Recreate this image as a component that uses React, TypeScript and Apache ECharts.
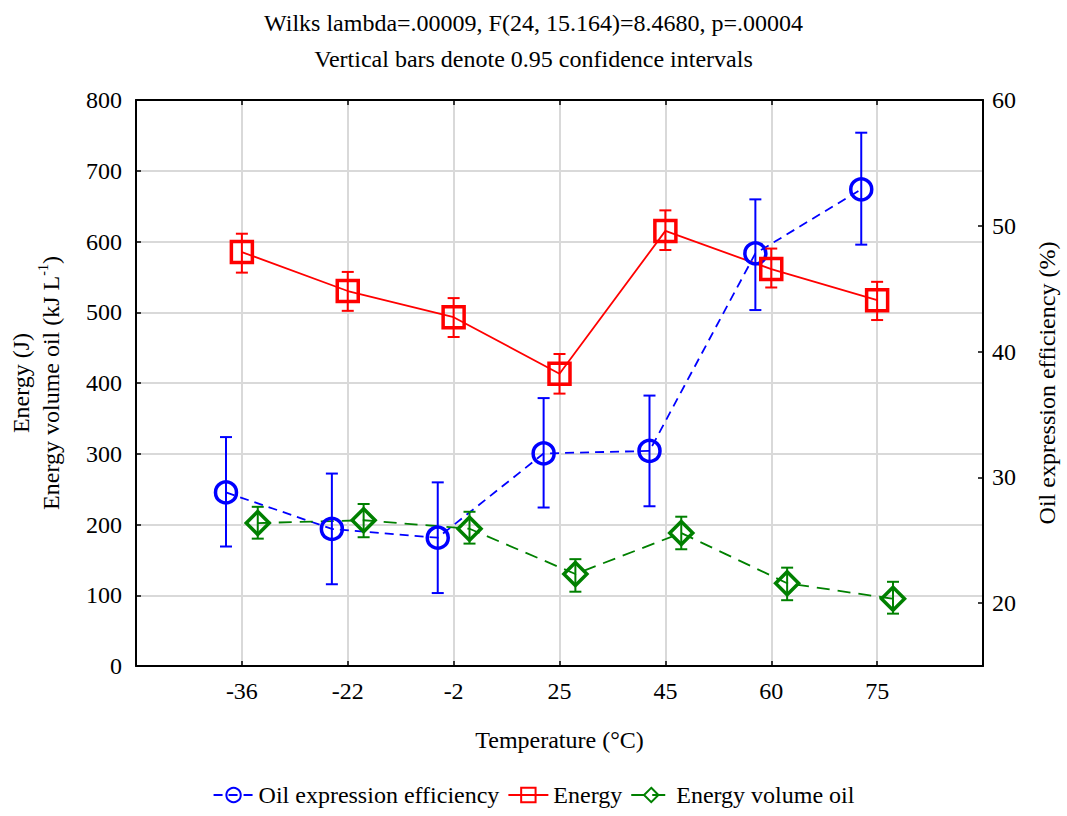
import React, { useEffect, useRef } from "react";
import * as echarts from "echarts";

const temperatures = ["-36", "-22", "-2", "25", "45", "60", "75"];
const categoryIndex = [1, 2, 3, 4, 5, 6, 7];

// Oil expression efficiency (%) – right axis
const oilEff = [28.8, 25.9, 25.2, 31.9, 32.1, 47.8, 52.9];
const oilEffLow = [24.5, 21.5, 20.8, 27.6, 27.7, 43.3, 48.5];
const oilEffHigh = [33.2, 30.3, 29.6, 36.3, 36.5, 52.1, 57.4];

// Energy (J) – left axis
const energy = [585, 530, 493, 413, 615, 561, 517];
const energyLow = [556, 502, 465, 385, 588, 535, 489];
const energyHigh = [611, 557, 520, 441, 644, 590, 543];

// Energy volume oil (kJ L-1) – left axis
const energyVol = [202, 206, 194, 130, 188, 117, 95];
const energyVolLow = [180, 182, 173, 105, 165, 93, 74];
const energyVolHigh = [225, 229, 218, 151, 211, 139, 119];

const rightTicks = [20, 30, 40, 50, 60];

const FONT = '"Liberation Serif", "Times New Roman", serif';
const BLUE = "#0000ff";
const RED = "#ff0000";
const GREEN = "#008000";

const OFF_BLUE = -0.15;
const OFF_RED = 0;
const OFF_GREEN = 0.15;

function pts(vals: number[], off: number) {
  return vals.map((v, i) => [categoryIndex[i] + off, v]);
}
function errs(lo: number[], hi: number[], off: number) {
  return lo.map((l, i) => [categoryIndex[i] + off, l, hi[i]]);
}

function errorBarSeries(name: string, data: number[][], color: string, yAxisIndex: number) {
  return {
    type: "custom",
    name: name + " CI",
    yAxisIndex,
    z: 5,
    silent: true,
    data,
    renderItem: (params: any, api: any) => {
      const x = api.value(0);
      const lo = api.coord([x, api.value(1)]);
      const hi = api.coord([x, api.value(2)]);
      const hw = 6;
      const style = { stroke: color, lineWidth: 2 };
      return {
        type: "group",
        children: [
          { type: "line", shape: { x1: lo[0], y1: lo[1], x2: hi[0], y2: hi[1] }, style },
          { type: "line", shape: { x1: hi[0] - hw, y1: hi[1], x2: hi[0] + hw, y2: hi[1] }, style },
          { type: "line", shape: { x1: lo[0] - hw, y1: lo[1], x2: lo[0] + hw, y2: lo[1] }, style },
        ],
      };
    },
  };
}

export default function App() {
  const ref = useRef<HTMLDivElement>(null);
  useEffect(() => {
    document.body.style.margin = "0";
    if (!ref.current) return;
    const chart = echarts.init(ref.current, null, { renderer: "svg" });
    const axisText = { color: "#000", fontSize: 24, fontFamily: FONT };
    chart.setOption({
      animation: false,
      backgroundColor: "#fff",
      textStyle: { fontFamily: FONT },
      title: {
        text:
          "Wilks lambda=.00009, F(24, 15.164)=8.4680, p=.00004\nVertical bars denote 0.95 confidence intervals",
        left: "center",
        top: 0,
        textStyle: { fontSize: 24, fontWeight: "normal", color: "#000", lineHeight: 36, fontFamily: FONT },
      },
      grid: { left: 136, right: 84, top: 100, bottom: 150 },
      legend: {
        bottom: 4,
        left: "center",
        itemWidth: 40,
        itemHeight: 18,
        itemGap: 8,
        textStyle: { fontSize: 24, color: "#000", fontFamily: FONT },
        data: ["Oil expression efficiency", "Energy", "Energy volume oil"],
      },
      xAxis: [
        {
          type: "value",
          min: 0,
          max: 8,
          interval: 1,
          position: "bottom",
          axisLine: { show: true, onZero: false, lineStyle: { color: "#000", width: 2 } },
          axisTick: { show: true, inside: true, length: 5, lineStyle: { color: "#000", width: 1.5 } },
          axisLabel: {
            ...axisText,
            margin: 13,
            formatter: (v: number) => (v >= 1 && v <= 7 ? temperatures[v - 1] : ""),
          },
          splitLine: { show: true, lineStyle: { color: "#d9d9d9", width: 2 } },
          name: "Temperature (°C)",
          nameLocation: "middle",
          nameGap: 62,
          nameTextStyle: axisText,
        },
        {
          type: "value",
          min: 0,
          max: 8,
          interval: 1,
          position: "top",
          axisLine: { show: true, onZero: false, lineStyle: { color: "#000", width: 2 } },
          axisTick: { show: true, inside: true, length: 5, lineStyle: { color: "#000", width: 1.5 } },
          axisLabel: { show: false },
          splitLine: { show: false },
        },
      ],
      yAxis: [
        {
          type: "value",
          min: 0,
          max: 800,
          interval: 100,
          position: "left",
          axisLine: { show: true, onZero: false, lineStyle: { color: "#000", width: 2 } },
          axisTick: { show: true, inside: true, length: 5, lineStyle: { color: "#000", width: 1.5 } },
          axisLabel: { ...axisText, margin: 14 },
          splitLine: { show: true, lineStyle: { color: "#d9d9d9", width: 2 } },
          name: "{a|Energy (J)}\n{a|Energy volume oil (kJ L}{s|-1}{a|)}",
          nameLocation: "middle",
          nameRotate: 90,
          nameGap: 70,
          nameTextStyle: {
            rich: {
              a: { fontSize: 24, fontFamily: FONT, color: "#000", lineHeight: 30 },
              s: { fontSize: 14, fontFamily: FONT, color: "#000", lineHeight: 30, verticalAlign: "top", padding: [0, 0, 12, 0] },
            },
          },
        },
        {
          type: "value",
          min: 15,
          max: 60,
          interval: 5,
          position: "right",
          axisLine: { show: true, onZero: false, lineStyle: { color: "#000", width: 2 } },
          axisTick: { show: true, inside: true, length: 5, customValues: rightTicks, lineStyle: { color: "#000", width: 1.5 } },
          axisLabel: {
            ...axisText,
            margin: 9,
            customValues: rightTicks,
            formatter: (v: number) => (v % 10 === 0 ? String(v) : ""),
          },
          splitLine: { show: false },
          name: "Oil expression efficiency (%)",
          nameLocation: "middle",
          nameRotate: 90,
          nameGap: 52,
          nameTextStyle: axisText,
        },
      ],
      series: [
        {
          type: "line",
          name: "Oil expression efficiency",
          yAxisIndex: 1,
          data: pts(oilEff, OFF_BLUE),
          symbol: "circle",
          symbolSize: 21,
          itemStyle: { color: "rgba(255,255,255,0)", borderColor: BLUE, borderWidth: 3.5 },
          lineStyle: { color: BLUE, width: 1.8, type: [9, 6] },
          z: 3,
        },
        {
          type: "line",
          name: "Energy",
          yAxisIndex: 0,
          data: pts(energy, OFF_RED),
          symbol: "rect",
          symbolSize: 21,
          itemStyle: { color: "rgba(255,255,255,0)", borderColor: RED, borderWidth: 3.5 },
          lineStyle: { color: RED, width: 1.8 },
          z: 3,
        },
        {
          type: "line",
          name: "Energy volume oil",
          yAxisIndex: 0,
          data: pts(energyVol, OFF_GREEN),
          symbol: "diamond",
          symbolSize: 23,
          itemStyle: { color: "rgba(255,255,255,0)", borderColor: GREEN, borderWidth: 3.5 },
          lineStyle: { color: GREEN, width: 1.8, type: [13, 8] },
          z: 3,
        },
        errorBarSeries("Oil expression efficiency", errs(oilEffLow, oilEffHigh, OFF_BLUE), BLUE, 1),
        errorBarSeries("Energy", errs(energyLow, energyHigh, OFF_RED), RED, 0),
        errorBarSeries("Energy volume oil", errs(energyVolLow, energyVolHigh, OFF_GREEN), GREEN, 0),
      ],
    });
    return () => chart.dispose();
  }, []);
  return <div ref={ref} style={{ width: "1067px", height: "816px" }} />;
}
